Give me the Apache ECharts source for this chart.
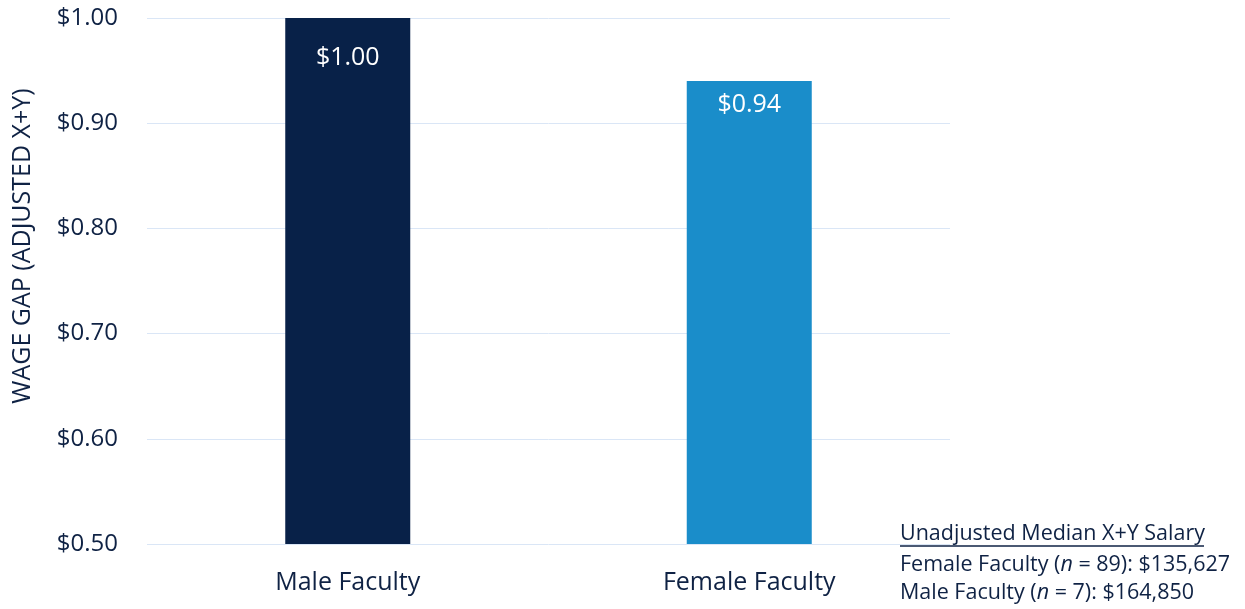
<!DOCTYPE html>
<html>
<head>
<meta charset="utf-8">
<script src="https://cdn.jsdelivr.net/npm/echarts@6/dist/echarts.min.js"></script>
<style>
  html, body { margin: 0; padding: 0; background: #fff; }
  #chart { width: 1245px; height: 609px; }
</style>
</head>
<body>
<div id="chart"></div>
<script>
// Adjusted wage gap, indexed to male faculty = $1.00
const categories = ['Male Faculty', 'Female Faculty'];
const wageGap = [1.00, 0.94];
const barColors = ['#082148', '#1a8dca'];
const axisName = 'WAGE GAP (ADJUSTED X+Y)';

// Unadjusted median salary note
const noteTitle = 'Unadjusted Median X+Y Salary';
const noteRows = [
  { group: 'Female Faculty', n: 89, salary: '$135,627' },
  { group: 'Male Faculty', n: 7, salary: '$164,850' }
];

const textColor = '#0f2244';
const fontFamily = '"Open Sans", "Noto Sans", sans-serif';

const chart = echarts.init(document.getElementById('chart'), null, { renderer: 'canvas' });

const noteLines = noteRows.map(r =>
  `{t|${r.group} (}{i|n}{t| = ${r.n}): ${r.salary}}`
).join('\n');

// value labels sit at slightly different depths inside each bar
const labelDistances = [27, 11];

chart.setOption({
  animation: false,
  textStyle: { fontFamily: fontFamily },
  grid: { left: 147, right: 295, top: 18, bottom: 65 },
  xAxis: {
    type: 'category',
    data: categories,
    axisLine: { show: false },
    axisTick: { show: false },
    axisLabel: { color: textColor, fontSize: 25, margin: 26, fontFamily: fontFamily }
  },
  yAxis: {
    type: 'value',
    min: 0.5,
    max: 1.0,
    interval: 0.1,
    axisLine: { show: false },
    axisTick: { show: false },
    splitLine: { lineStyle: { color: '#dae6f6', width: 1 } },
    axisLabel: {
      color: textColor,
      fontSize: 24,
      margin: 29,
      fontFamily: fontFamily,
      formatter: v => '$' + v.toFixed(2)
    }
  },
  series: [{
    type: 'bar',
    barWidth: 125,
    data: wageGap.map((v, i) => ({
      value: v,
      itemStyle: { color: barColors[i] },
      label: { distance: labelDistances[i] }
    })),
    label: {
      show: true,
      position: 'insideTop',
      color: '#ffffff',
      fontSize: 25,
      fontFamily: fontFamily,
      formatter: p => '$' + p.value.toFixed(2)
    }
  }],
  graphic: [
    {
      type: 'text',
      x: 23,
      y: 246,
      rotation: Math.PI / 2,
      style: {
        text: axisName,
        fill: textColor,
        font: '25px ' + fontFamily,
        align: 'center',
        verticalAlign: 'middle'
      }
    },
    {
      type: 'text',
      left: 900,
      top: 523,
      style: {
        text: noteTitle,
        fill: textColor,
        font: '21.5px ' + fontFamily
      }
    },
    {
      type: 'line',
      shape: { x1: 900, y1: 546, x2: 1204, y2: 546 },
      style: { stroke: textColor, lineWidth: 1.3 }
    },
    {
      type: 'text',
      left: 900,
      top: 554,
      style: {
        text: noteLines,
        rich: {
          t: { fill: textColor, fontSize: 21.5, fontFamily: fontFamily, lineHeight: 28 },
          i: { fill: textColor, fontSize: 21.5, fontFamily: fontFamily, fontStyle: 'italic', lineHeight: 28 }
        }
      }
    }
  ]
});
</script>
</body>
</html>
